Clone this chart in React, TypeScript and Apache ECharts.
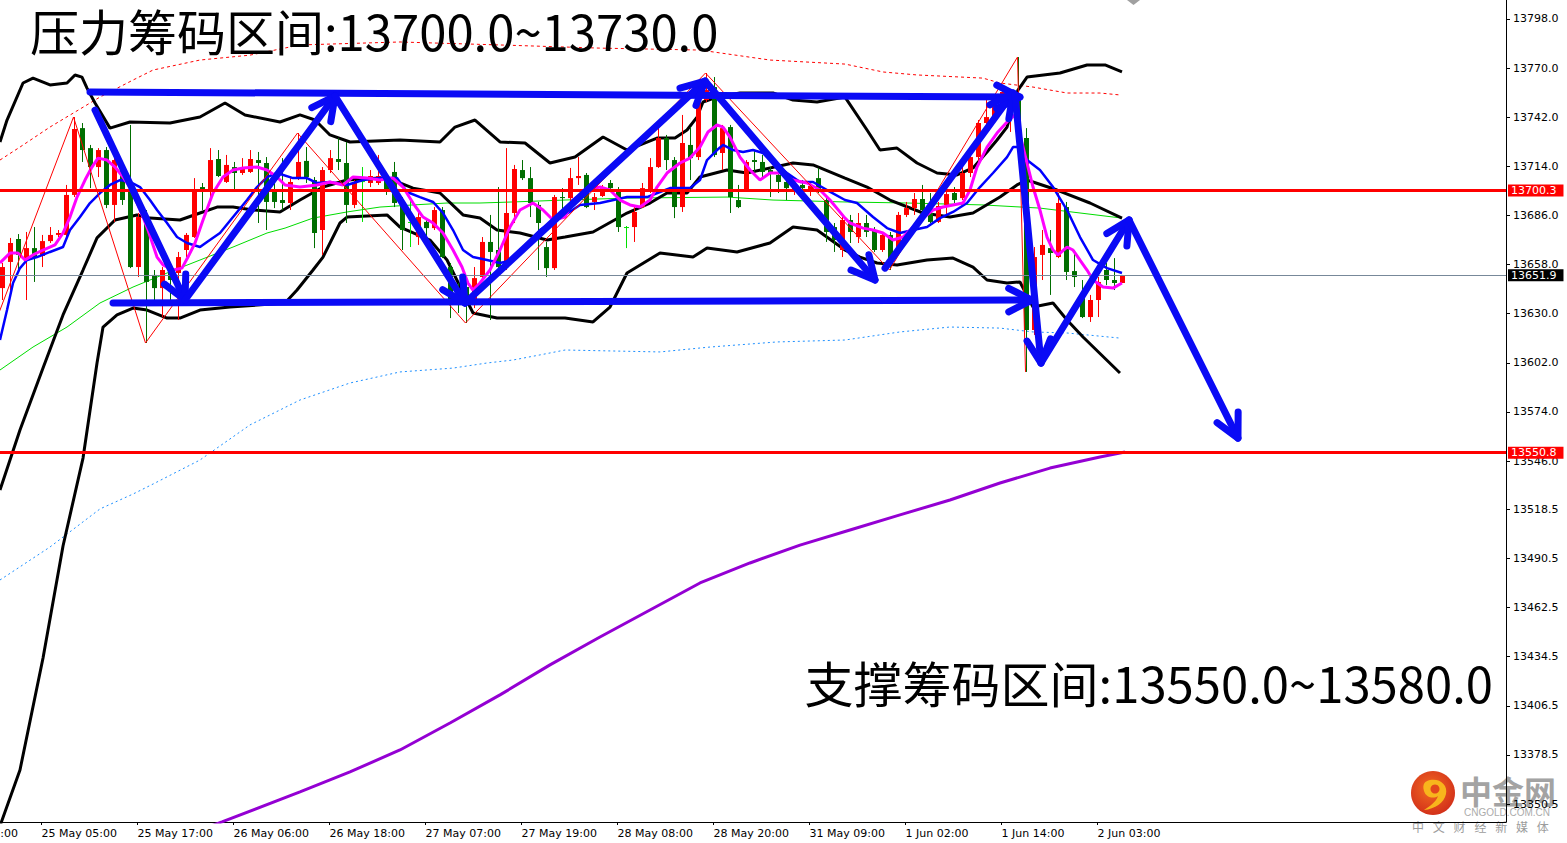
import React, { useEffect, useRef } from "react";
import * as echarts from "echarts";

const W = 1567;
const H = 843;
const GRID = { left: 0, top: 0, right: 61, bottom: 21 };

// Visible window: bar index on x, price on y.
const X_MIN = -5.1875;
const X_MAX = 183.0625;
const Y_MIN = 13340.24;
const Y_MAX = 13808.83;

// H1 candles, first one is bar index FIRST_BAR. Each row: [open, close, low, high]
const FIRST_BAR = -5;
const CANDLES: number[][] = [
  [13644.6, 13656.6, 13637.8, 13658.9],
  [13659.5, 13670.3, 13643.5, 13673.2],
  [13672.6, 13663.5, 13654.9, 13675.4],
  [13660.6, 13667.4, 13637.8, 13676.6],
  [13667.4, 13662.3, 13648.1, 13679.4],
  [13662.9, 13671.4, 13656.6, 13674.9],
  [13671.4, 13674.9, 13670.3, 13679.4],
  [13674.9, 13676.0, 13673.7, 13677.7],
  [13674.9, 13697.7, 13673.7, 13703.4],
  [13697.7, 13735.3, 13696.5, 13742.1],
  [13735.8, 13723.3, 13716.5, 13738.7],
  [13724.4, 13713.6, 13701.6, 13726.2],
  [13713.6, 13723.3, 13707.9, 13724.4],
  [13723.3, 13692.0, 13690.2, 13725.0],
  [13692.0, 13717.6, 13682.3, 13719.3],
  [13711.9, 13694.8, 13692.0, 13714.8],
  [13700.5, 13656.6, 13656.0, 13737.6],
  [13656.6, 13685.1, 13650.9, 13687.4],
  [13685.1, 13648.1, 13613.3, 13689.1],
  [13652.1, 13644.6, 13636.1, 13654.9],
  [13644.6, 13654.9, 13628.1, 13656.6],
  [13656.0, 13649.2, 13637.8, 13659.5],
  [13653.2, 13662.3, 13626.4, 13665.2],
  [13666.3, 13674.9, 13662.3, 13676.0],
  [13673.7, 13699.4, 13673.2, 13707.3],
  [13702.2, 13700.5, 13689.1, 13704.5],
  [13700.5, 13717.6, 13693.7, 13724.4],
  [13718.2, 13708.5, 13707.9, 13723.3],
  [13705.1, 13714.8, 13704.5, 13720.5],
  [13713.6, 13710.2, 13700.5, 13716.5],
  [13710.2, 13713.6, 13709.1, 13718.7],
  [13710.8, 13718.2, 13710.2, 13723.3],
  [13717.6, 13715.9, 13681.7, 13722.2],
  [13715.9, 13693.7, 13677.7, 13719.3],
  [13699.4, 13693.7, 13690.2, 13704.5],
  [13694.8, 13693.1, 13689.1, 13718.7],
  [13693.1, 13705.1, 13689.1, 13707.3],
  [13707.9, 13716.5, 13706.2, 13733.0],
  [13717.1, 13707.9, 13704.5, 13725.0],
  [13706.2, 13676.0, 13667.4, 13707.9],
  [13677.7, 13711.9, 13663.5, 13713.6],
  [13711.9, 13718.7, 13710.2, 13723.3],
  [13718.2, 13716.5, 13711.9, 13730.1],
  [13715.9, 13692.0, 13681.7, 13727.9],
  [13692.0, 13704.5, 13690.2, 13706.2],
  [13705.6, 13705.6, 13682.3, 13713.6],
  [13704.5, 13708.5, 13702.2, 13711.9],
  [13704.5, 13708.5, 13703.4, 13720.5],
  [13707.3, 13700.5, 13697.7, 13710.8],
  [13710.8, 13693.1, 13690.8, 13716.5],
  [13693.7, 13677.7, 13666.3, 13696.5],
  [13682.3, 13682.3, 13668.0, 13694.8],
  [13673.7, 13685.1, 13669.2, 13688.0],
  [13682.3, 13678.8, 13672.0, 13684.5],
  [13678.8, 13689.1, 13677.7, 13690.8],
  [13689.1, 13662.3, 13661.7, 13690.8],
  [13656.6, 13637.8, 13627.5, 13658.9],
  [13643.5, 13637.8, 13630.4, 13647.5],
  [13645.2, 13636.1, 13624.7, 13649.2],
  [13634.9, 13650.3, 13633.2, 13656.6],
  [13650.9, 13670.9, 13649.2, 13673.7],
  [13670.9, 13665.2, 13626.4, 13686.3],
  [13666.3, 13656.6, 13654.9, 13702.2],
  [13656.6, 13687.4, 13654.9, 13724.4],
  [13687.4, 13712.5, 13681.7, 13714.8],
  [13711.9, 13707.3, 13706.2, 13717.6],
  [13707.3, 13693.1, 13685.1, 13713.6],
  [13692.0, 13681.7, 13654.9, 13693.7],
  [13668.0, 13656.0, 13650.9, 13670.9],
  [13656.0, 13696.5, 13654.9, 13697.7],
  [13696.5, 13695.9, 13689.1, 13701.6],
  [13695.9, 13707.3, 13690.8, 13713.1],
  [13707.3, 13708.5, 13703.4, 13719.3],
  [13709.1, 13690.8, 13690.2, 13710.2],
  [13693.7, 13696.5, 13689.1, 13698.8],
  [13697.1, 13701.6, 13696.5, 13703.4],
  [13704.5, 13701.6, 13699.4, 13706.2],
  [13699.4, 13679.4, 13676.6, 13702.2],
  [13679.4, 13679.4, 13667.4, 13680.0],
  [13679.4, 13688.0, 13670.9, 13690.8],
  [13690.8, 13701.6, 13690.2, 13704.5],
  [13700.5, 13713.6, 13698.8, 13718.7],
  [13713.6, 13730.1, 13713.1, 13736.4],
  [13730.1, 13717.6, 13711.9, 13731.9],
  [13717.6, 13690.8, 13684.5, 13719.3],
  [13690.8, 13727.3, 13688.0, 13743.3],
  [13726.2, 13718.7, 13706.2, 13736.4],
  [13719.3, 13751.8, 13717.6, 13757.5],
  [13751.8, 13757.5, 13750.7, 13767.2],
  [13759.2, 13720.5, 13719.3, 13764.9],
  [13721.6, 13735.8, 13711.9, 13737.6],
  [13736.4, 13696.5, 13687.4, 13737.6],
  [13694.8, 13690.8, 13690.2, 13703.4],
  [13700.5, 13716.5, 13699.4, 13717.6],
  [13717.6, 13716.5, 13710.8, 13723.3],
  [13716.5, 13710.8, 13707.9, 13720.5],
  [13711.9, 13710.2, 13696.5, 13713.6],
  [13709.1, 13705.1, 13698.8, 13711.9],
  [13705.1, 13701.6, 13694.8, 13707.9],
  [13700.5, 13703.4, 13697.7, 13706.2],
  [13703.4, 13701.6, 13698.8, 13706.2],
  [13700.5, 13702.8, 13697.1, 13705.1],
  [13707.3, 13699.4, 13698.8, 13713.1],
  [13694.8, 13676.6, 13670.9, 13696.5],
  [13679.4, 13672.0, 13665.2, 13681.7],
  [13666.3, 13683.4, 13662.3, 13685.7],
  [13683.4, 13676.6, 13670.3, 13686.3],
  [13673.7, 13681.7, 13670.3, 13687.4],
  [13681.7, 13676.6, 13673.7, 13686.3],
  [13677.7, 13666.3, 13665.2, 13679.4],
  [13666.3, 13674.9, 13665.2, 13676.6],
  [13674.9, 13659.5, 13654.9, 13676.6],
  [13666.3, 13686.3, 13664.6, 13688.0],
  [13686.3, 13690.2, 13685.1, 13693.7],
  [13690.2, 13695.4, 13686.3, 13698.8],
  [13695.4, 13689.1, 13683.4, 13703.4],
  [13687.4, 13682.3, 13681.7, 13698.8],
  [13682.3, 13691.4, 13681.7, 13693.7],
  [13692.0, 13698.2, 13686.3, 13700.5],
  [13698.8, 13694.8, 13693.1, 13702.2],
  [13695.9, 13710.2, 13694.8, 13715.9],
  [13710.2, 13719.3, 13707.9, 13723.3],
  [13719.3, 13738.7, 13714.8, 13740.4],
  [13738.7, 13742.1, 13733.0, 13751.8],
  [13742.1, 13750.1, 13740.4, 13754.7],
  [13749.0, 13756.4, 13746.1, 13760.4],
  [13744.4, 13750.7, 13733.6, 13753.5],
  [13751.8, 13731.9, 13730.1, 13776.3],
  [13730.1, 13620.7, 13596.8, 13735.8],
  [13620.7, 13662.3, 13617.9, 13668.0],
  [13663.5, 13669.2, 13649.2, 13677.7],
  [13667.4, 13664.6, 13640.7, 13677.7],
  [13662.3, 13693.1, 13661.7, 13698.8],
  [13690.8, 13653.8, 13649.2, 13693.7],
  [13654.3, 13650.9, 13645.2, 13666.3],
  [13638.9, 13628.1, 13627.5, 13649.2],
  [13628.1, 13637.8, 13625.3, 13640.7],
  [13637.8, 13648.1, 13628.1, 13650.9],
  [13654.9, 13649.2, 13646.3, 13658.9],
  [13649.2, 13647.5, 13643.5, 13661.7],
  [13647.5, 13651.9, 13647.5, 13652.1],
];

// Indicator lines as [bar index, price]
const MA_FAST = [
  [-5.19, 13658.9], [-3.94, 13664.6], [-2.94, 13664.6], [-2.06, 13660.6], [-1.06, 13663.5], [0.19, 13666.3],
  [1.69, 13669.2], [2.69, 13676.0], [3.56, 13685.1], [4.44, 13696.5], [5.44, 13706.2], [6.31, 13713.6],
  [7.06, 13718.7], [8.19, 13717.6], [9.19, 13713.6], [10.19, 13707.9], [11.06, 13702.2], [11.94, 13693.1],
  [12.69, 13685.1], [13.31, 13677.7], [14.44, 13662.3], [15.19, 13657.8], [16.44, 13654.9], [17.56, 13656.0],
  [18.31, 13662.3], [19.19, 13670.3], [20.19, 13683.4], [21.44, 13698.8], [22.69, 13707.9], [23.94, 13711.9],
  [25.19, 13713.1], [26.94, 13713.6], [28.19, 13711.9], [29.44, 13707.9], [30.44, 13703.4], [32.31, 13702.2],
  [34.44, 13703.4], [36.06, 13705.1], [37.69, 13703.4], [38.94, 13707.9], [40.69, 13707.3], [42.31, 13706.2],
  [43.94, 13707.3], [45.19, 13702.2], [46.44, 13693.1], [47.69, 13685.1], [48.94, 13681.7], [50.19, 13676.0],
  [51.44, 13666.3], [52.56, 13656.6], [53.31, 13647.5], [53.94, 13643.5], [54.81, 13647.5], [56.06, 13654.9],
  [57.31, 13666.3], [58.56, 13679.4], [59.81, 13689.1], [61.44, 13693.1], [62.69, 13689.1], [63.94, 13683.4],
  [65.44, 13685.1], [66.44, 13694.8], [68.19, 13700.5], [69.81, 13702.2], [71.06, 13700.5], [72.31, 13694.8],
  [73.56, 13692.0], [74.81, 13690.8], [76.06, 13694.8], [76.94, 13702.2], [78.19, 13710.2], [79.81, 13715.9],
  [81.06, 13718.7], [82.31, 13725.0], [83.31, 13733.6], [84.44, 13737.6], [85.19, 13736.4], [86.06, 13730.7],
  [87.31, 13719.3], [88.56, 13711.9], [89.81, 13706.2], [91.06, 13710.2], [92.31, 13710.2], [93.94, 13706.2],
  [95.69, 13704.5], [97.31, 13700.5], [98.56, 13694.8], [100.44, 13684.5], [101.06, 13681.7], [102.69, 13678.8],
  [103.94, 13677.7], [105.19, 13676.0], [106.44, 13672.0], [107.69, 13673.7], [108.94, 13679.4], [110.19, 13684.5],
  [111.44, 13689.1], [112.69, 13690.8], [113.94, 13692.0], [115.19, 13693.1], [116.06, 13700.5], [116.94, 13713.6],
  [118.19, 13725.0], [119.44, 13733.0], [120.69, 13739.3], [121.69, 13743.3], [123.19, 13715.9], [123.94, 13702.2],
  [124.81, 13689.1], [125.69, 13673.7], [126.44, 13666.3], [127.06, 13663.5], [128.19, 13668.0], [128.94, 13666.3],
  [129.81, 13660.6], [130.69, 13654.9], [131.44, 13649.2], [132.69, 13645.2], [133.94, 13644.6], [135.06, 13647.5],
];

const MA_SLOW = [
  [-5.19, 13615.0], [-4.31, 13632.1], [-3.56, 13647.5], [-2.69, 13656.0], [-1.81, 13660.6], [-0.56, 13662.3],
  [1.06, 13665.2], [2.69, 13668.0], [3.56, 13677.7], [4.81, 13685.1], [6.06, 13693.1], [7.31, 13698.8],
  [8.56, 13703.4], [9.81, 13706.2], [11.06, 13705.1], [12.31, 13702.2], [13.56, 13694.8], [14.44, 13689.1],
  [15.69, 13681.7], [16.94, 13673.7], [18.19, 13670.3], [19.81, 13668.0], [20.69, 13670.9], [22.31, 13676.0],
  [23.94, 13685.1], [25.69, 13694.8], [26.94, 13702.2], [28.19, 13707.9], [29.44, 13710.2], [31.44, 13707.3],
  [33.19, 13707.3], [34.44, 13704.5], [36.06, 13705.1], [38.19, 13703.4], [40.19, 13706.2], [42.31, 13707.3],
  [44.44, 13707.3], [45.69, 13699.4], [47.31, 13696.5], [48.94, 13693.7], [50.19, 13687.4], [51.44, 13677.7],
  [52.69, 13666.3], [53.94, 13662.3], [55.69, 13660.6], [57.31, 13658.9], [58.94, 13660.6], [60.69, 13670.3],
  [62.31, 13677.7], [63.56, 13681.7], [65.44, 13686.3], [67.31, 13692.0], [69.81, 13693.1], [73.19, 13696.5],
  [75.69, 13696.5], [77.31, 13699.4], [78.56, 13701.6], [81.06, 13701.6], [82.31, 13706.2], [83.19, 13717.6],
  [84.44, 13723.3], [85.19, 13726.2], [86.44, 13723.3], [87.69, 13722.2], [88.94, 13723.3], [90.19, 13721.6],
  [91.44, 13715.9], [93.19, 13710.2], [94.81, 13705.1], [96.44, 13705.1], [98.19, 13700.5], [100.44, 13694.8],
  [101.94, 13693.1], [103.94, 13685.1], [105.69, 13678.8], [107.31, 13676.0], [108.94, 13677.7], [110.69, 13679.4],
  [112.31, 13684.5], [113.94, 13688.0], [115.69, 13693.1], [117.31, 13702.2], [118.94, 13710.2], [120.69, 13719.3],
  [121.44, 13725.0], [122.31, 13725.0], [123.19, 13717.6], [124.81, 13711.9], [126.44, 13702.2], [128.19, 13689.1],
  [129.81, 13673.7], [131.44, 13660.6], [133.19, 13656.0], [135.06, 13653.2],
];

const BB_UPPER = [
  [-5.19, 13727.9], [-4.31, 13740.4], [-2.31, 13761.5], [-1.06, 13764.3], [1.06, 13760.4], [3.19, 13761.5],
  [4.19, 13766.1], [5.06, 13764.9], [5.69, 13758.6], [6.69, 13750.1], [8.56, 13735.8], [11.06, 13739.3],
  [16.06, 13738.7], [19.81, 13742.1], [22.94, 13750.1], [25.44, 13743.3], [29.81, 13739.3], [32.31, 13743.3],
  [34.19, 13740.4], [36.06, 13731.9], [38.56, 13727.9], [44.81, 13729.0], [49.81, 13727.9], [51.69, 13736.4],
  [54.19, 13740.4], [57.31, 13727.9], [60.44, 13727.3], [63.56, 13715.9], [66.69, 13719.3], [70.19, 13730.7],
  [73.19, 13723.3], [76.94, 13730.1], [79.19, 13730.1], [80.69, 13734.7], [81.94, 13742.1], [82.69, 13750.7],
  [84.44, 13753.5], [87.31, 13755.8], [91.44, 13755.8], [93.94, 13751.8], [96.94, 13750.7], [100.44, 13753.5],
  [103.19, 13734.7], [104.81, 13723.3], [106.94, 13724.4], [109.44, 13715.9], [111.94, 13710.2], [114.44, 13709.1],
  [116.44, 13713.1], [118.19, 13722.2], [119.44, 13729.0], [120.69, 13736.4], [121.44, 13747.8], [122.06, 13757.5],
  [123.19, 13764.9], [127.31, 13767.2], [130.69, 13771.8], [132.94, 13771.8], [135.06, 13767.8],
];

const BB_MID = [
  [-5.19, 13529.5], [-2.69, 13563.7], [0.19, 13599.0], [2.69, 13629.3], [5.19, 13654.9], [6.94, 13673.2],
  [9.19, 13683.4], [11.94, 13686.3], [13.56, 13684.5], [17.31, 13683.4], [19.81, 13687.4], [21.94, 13690.8],
  [23.94, 13690.8], [26.44, 13689.1], [29.81, 13688.0], [32.31, 13694.8], [35.19, 13702.2], [38.19, 13706.2],
  [42.31, 13707.3], [43.94, 13706.2], [46.44, 13701.6], [49.81, 13698.8], [52.69, 13686.3], [54.81, 13684.5],
  [56.94, 13677.7], [59.81, 13676.0], [63.19, 13672.0], [65.44, 13673.7], [68.94, 13676.6], [73.19, 13687.4],
  [76.06, 13693.1], [78.19, 13698.8], [80.69, 13698.8], [82.31, 13707.9], [85.69, 13711.9], [88.19, 13710.2],
  [93.94, 13715.9], [96.44, 13714.8], [100.44, 13707.3], [103.19, 13702.2], [106.06, 13694.8], [110.19, 13687.4],
  [113.56, 13685.1], [116.44, 13687.4], [119.81, 13696.5], [121.94, 13703.4], [123.19, 13706.2], [126.94, 13700.5],
  [131.06, 13693.1], [135.06, 13684.5],
];

const BB_LOWER = [
  [-5.19, 13338.0], [-2.69, 13369.9], [0.19, 13433.7], [2.69, 13497.6], [5.19, 13547.7], [6.94, 13601.9],
  [7.69, 13622.4], [9.44, 13629.3], [11.44, 13633.2], [13.19, 13632.1], [15.69, 13627.5], [17.31, 13627.5],
  [19.81, 13632.1], [23.56, 13633.8], [30.44, 13636.1], [31.94, 13643.5], [33.94, 13654.9], [35.19, 13662.3],
  [37.31, 13681.7], [38.19, 13685.1], [43.19, 13686.3], [44.81, 13679.4], [48.56, 13672.0], [50.69, 13660.6],
  [53.94, 13630.4], [56.94, 13627.5], [65.44, 13627.5], [68.94, 13625.3], [71.06, 13633.8], [73.19, 13653.2],
  [77.31, 13664.6], [81.44, 13662.3], [83.19, 13667.4], [86.94, 13665.2], [91.06, 13670.3], [93.94, 13679.4],
  [96.94, 13677.7], [100.44, 13666.3], [102.31, 13662.3], [104.44, 13658.9], [106.94, 13657.8], [110.69, 13660.6],
  [113.94, 13661.7], [116.44, 13656.6], [118.19, 13649.2], [120.69, 13647.5], [122.31, 13648.1], [123.94, 13633.8],
  [126.44, 13636.1], [128.19, 13626.4], [130.19, 13616.7], [134.81, 13596.2],
];

const MA_LONG = [
  [-5.19, 13597.9], [-1.06, 13611.0], [3.19, 13622.4], [7.31, 13636.1], [11.44, 13645.2], [15.69, 13653.2],
  [19.81, 13660.6], [23.94, 13668.0], [28.19, 13676.0], [30.44, 13678.8], [33.94, 13684.5], [38.19, 13688.0],
  [42.31, 13690.8], [46.44, 13692.0], [50.69, 13693.1], [54.81, 13693.1], [58.94, 13693.7], [65.44, 13694.8],
  [73.19, 13695.9], [85.69, 13696.5], [91.44, 13694.8], [100.44, 13693.7], [108.19, 13693.1], [117.69, 13692.0],
  [124.81, 13690.2], [135.06, 13684.5],
];

const ENV_UPPER = [
  [-5.19, 13717.6], [-2.69, 13725.0], [1.06, 13736.4], [7.31, 13753.5], [11.44, 13763.2], [13.94, 13768.9],
  [19.81, 13774.6], [26.06, 13777.4], [32.31, 13783.2], [44.81, 13784.9], [57.31, 13783.2], [69.81, 13781.4],
  [82.31, 13780.3], [91.06, 13774.6], [100.44, 13772.3], [105.19, 13767.8], [109.44, 13766.1], [117.69, 13764.3],
  [119.81, 13761.5], [123.94, 13759.2], [128.19, 13755.8], [132.31, 13755.8], [134.81, 13754.7],
];

const ENV_LOWER = [
  [-5.19, 13478.2], [1.06, 13497.0], [7.31, 13518.7], [11.44, 13527.2], [13.94, 13532.9], [19.81, 13546.6],
  [26.06, 13566.6], [32.31, 13580.8], [38.56, 13590.5], [44.81, 13596.8], [51.44, 13599.0], [55.69, 13601.9],
  [58.94, 13603.6], [62.31, 13606.5], [65.44, 13609.3], [77.31, 13608.2], [83.56, 13611.0], [91.94, 13613.9],
  [100.44, 13615.0], [107.31, 13619.6], [113.56, 13622.4], [119.81, 13621.8], [123.94, 13619.6], [128.19, 13619.0],
  [134.81, 13616.1],
];

const MA_TREND = [
  [14.81, 13327.2], [22.56, 13340.3], [32.31, 13357.4], [38.56, 13368.8], [44.81, 13381.3], [51.06, 13396.7],
  [57.31, 13412.7], [63.56, 13429.8], [69.81, 13445.7], [76.06, 13461.1], [82.31, 13476.5], [88.56, 13487.9],
  [94.81, 13498.1], [101.06, 13506.7], [107.31, 13515.3], [113.56, 13523.8], [119.81, 13533.5], [126.06, 13542.0],
  [132.31, 13548.3], [135.44, 13551.2],
];

const ZIGZAG = [
  [-7, 13610.4], [4, 13742.1], [13, 13613.3], [32, 13733.0], [53, 13624.7],
  [83, 13767.2], [106, 13654.9], [122, 13776.3], [123, 13596.8],
];

// Hand-drawn trend arrows: [fromBar, fromPrice, toBar, toPrice]
const ARROWS = [
  [6.06, 13756.4, 122.3, 13753.5],
  [8.94, 13636.1, 123.8, 13637.8],
  [6.69, 13746.1, 17.94, 13637.8],
  [17.94, 13637.8, 36.69, 13754.1],
  [36.69, 13754.1, 52.94, 13636.1],
  [52.94, 13636.1, 82.94, 13762.6],
  [82.94, 13762.6, 104.19, 13649.2],
  [105.44, 13656.0, 121.44, 13755.8],
  [121.69, 13754.7, 124.94, 13601.9],
  [124.94, 13601.9, 135.94, 13683.4],
  [135.94, 13683.4, 149.56, 13559.1],
];

const RESISTANCE_LEVEL = 13700.3;
const SUPPORT_LEVEL = 13550.8;
const LAST_PRICE = CANDLES[CANDLES.length - 1][1];

const X_TICK_BARS = [0, 12, 24, 36, 48, 60, 72, 84, 96, 108, 120, 132];
const X_TICK_LABELS = [
  "25 May 05:00", "25 May 17:00", "26 May 06:00", "26 May 18:00", "27 May 07:00", "27 May 19:00",
  "28 May 08:00", "28 May 20:00", "31 May 09:00", "1 Jun 02:00", "1 Jun 14:00", "2 Jun 03:00",
];
const X_PREV_BAR = -12;
const X_PREV_LABEL = "24 May 16:00";

const Y_TICKS = [
  13350.5, 13378.5, 13406.5, 13434.5, 13462.5, 13490.5, 13518.5, 13546.0, 13574.0,
  13602.0, 13630.0, 13658.0, 13686.0, 13714.0, 13742.0, 13770.0, 13798.0,
];

const TITLE_TOP = "压力筹码区间:13700.0~13730.0";
const TITLE_BOTTOM = "支撑筹码区间:13550.0~13580.0";
const BRAND = "中金网";
const BRAND_DOMAIN = "CNGOLD.COM.CN";
const BRAND_SLOGAN = "中文财经新媒体";

const BULL = "#FF0000";
const BEAR = "#006E00";
const DOJI = "#00E000";
const ARROW_BLUE = "#0A0AF5";
const AXIS_FONT = "DejaVu Sans";
const CJK_FONT = "Noto Sans CJK SC";

const SWIRL_PATH =
  "M -3 -13 C 7 -15 15 -8 13 1 C 11 10 2 16 -9 17 C -3 13 3 9 5 3 C 1 6 -7 5 -9 -2 C -11 -9 -8 -12 -3 -13 Z";
let swirlReady = false;
function registerShapes() {
  if (swirlReady) return;
  echarts.graphic.registerShape("brandSwirl", echarts.graphic.extendPath(SWIRL_PATH, {}) as any);
  swirlReady = true;
}

function lineSeries(data: number[][], color: string, width: number, z: number, type: any = "solid", extra: any = {}) {
  return {
    type: "line",
    data,
    showSymbol: false,
    symbol: "none",
    silent: true,
    z,
    lineStyle: { color, width, type },
    ...extra,
  };
}

function tagLabel(bg: string) {
  return {
    show: true,
    position: "end",
    distance: 2,
    formatter: (p: any) => Number(p.value).toFixed(1),
    color: "#fff",
    backgroundColor: bg,
    padding: [1, 7, 0, 3],
    fontSize: 11,
    lineHeight: 11,
    fontFamily: AXIS_FONT,
  };
}

function buildOption() {
  const candleData = CANDLES.map((c, i) => [FIRST_BAR + i, c[0], c[1], c[2], c[3]]);
  return {
    animation: false,
    backgroundColor: "#ffffff",
    grid: { ...GRID, containLabel: false },
    xAxis: {
      type: "value",
      min: X_MIN,
      max: X_MAX,
      axisLine: { show: true, onZero: false, lineStyle: { color: "#000", width: 1 } },
      axisTick: { show: true, customValues: X_TICK_BARS, length: 3, lineStyle: { color: "#000" } },
      axisLabel: {
        show: true,
        customValues: X_TICK_BARS,
        formatter: (v: number) => {
          const i = X_TICK_BARS.indexOf(Math.round(v));
          return i >= 0 ? X_TICK_LABELS[i] : "";
        },
        align: "left",
        margin: 6,
        color: "#000",
        fontFamily: AXIS_FONT,
        fontSize: 11,
      },
      splitLine: { show: false },
    },
    yAxis: {
      type: "value",
      position: "right",
      min: Y_MIN,
      max: Y_MAX,
      axisLine: { show: true, onZero: false, lineStyle: { color: "#000", width: 1 } },
      axisTick: { show: true, customValues: Y_TICKS, length: 4, lineStyle: { color: "#000" } },
      axisLabel: {
        show: true,
        customValues: Y_TICKS,
        formatter: (v: number) => v.toFixed(1),
        margin: 7,
        color: "#000",
        fontFamily: AXIS_FONT,
        fontSize: 11,
      },
      splitLine: { show: false },
    },
    series: [
      lineSeries(ENV_UPPER, "#FF0000", 1, 1, [3, 3]),
      lineSeries(ENV_LOWER, "#1E90FF", 1, 1, [2, 3]),
      lineSeries(MA_TREND, "#9400D3", 3, 1),
      lineSeries(MA_LONG, "#00DD00", 1, 1),
      lineSeries(BB_UPPER, "#000000", 3, 1),
      lineSeries(BB_MID, "#000000", 3, 1),
      lineSeries(BB_LOWER, "#000000", 3, 1),
      {
        type: "custom",
        silent: true,
        z: 2,
        data: candleData,
        encode: { x: 0, y: [1, 2, 3, 4] },
        renderItem: (_params: any, api: any) => {
          const k = api.value(0);
          const o = api.value(1);
          const c = api.value(2);
          const lo = api.value(3);
          const hi = api.value(4);
          const pO = api.coord([k, o]);
          const pC = api.coord([k, c]);
          const pL = api.coord([k, lo]);
          const pH = api.coord([k, hi]);
          const cx = Math.round(pO[0]);
          const color = c > o ? BULL : c < o ? BEAR : DOJI;
          const top = Math.min(pO[1], pC[1]);
          const bot = Math.max(pO[1], pC[1]);
          return {
            type: "group",
            children: [
              {
                type: "line",
                shape: { x1: cx + 0.5, y1: pH[1], x2: cx + 0.5, y2: pL[1] },
                style: { stroke: color, lineWidth: 1 },
              },
              {
                type: "rect",
                shape: { x: cx - 2, y: top, width: 5, height: Math.max(1, bot - top) },
                style: { fill: color },
              },
            ],
          };
        },
      },
      lineSeries(MA_SLOW, "#0000FF", 2.5, 3),
      lineSeries(MA_FAST, "#FF00FF", 3, 3),
      lineSeries(ZIGZAG, "#FF0000", 1, 4, "solid", {
        markLine: {
          silent: true,
          symbol: ["none", "none"],
          animation: false,
          data: [
            { yAxis: LAST_PRICE, lineStyle: { color: "#778899", width: 1, type: "solid" }, label: tagLabel("#000000") },
            { yAxis: RESISTANCE_LEVEL, lineStyle: { color: "#FF0000", width: 3, type: "solid" }, label: tagLabel("#FF0000") },
            { yAxis: SUPPORT_LEVEL, lineStyle: { color: "#FF0000", width: 3, type: "solid" }, label: tagLabel("#FF0000") },
          ],
        },
      }),
      {
        type: "custom",
        silent: true,
        z: 6,
        data: ARROWS,
        encode: { x: [0, 2], y: [1, 3] },
        renderItem: (_params: any, api: any) => {
          const a = api.coord([api.value(0), api.value(1)]);
          const b = api.coord([api.value(2), api.value(3)]);
          const ang = Math.atan2(b[1] - a[1], b[0] - a[0]);
          const len = 26;
          const spread = 0.47;
          const h1 = [b[0] - len * Math.cos(ang - spread), b[1] - len * Math.sin(ang - spread)];
          const h2 = [b[0] - len * Math.cos(ang + spread), b[1] - len * Math.sin(ang + spread)];
          const st = { stroke: ARROW_BLUE, lineWidth: 7, lineCap: "round", lineJoin: "round", fill: null };
          return {
            type: "group",
            children: [
              { type: "line", shape: { x1: a[0], y1: a[1], x2: b[0], y2: b[1] }, style: st },
              { type: "polyline", shape: { points: [h1, b, h2] }, style: st },
            ],
          };
        },
      },
    ],
  };
}

function buildGraphics(prevLabelX: number) {
  const slogan = BRAND_SLOGAN.split("").map((ch, i) => ({
    type: "text",
    z: -1,
    x: 1418 + i * 20.8,
    y: 826,
    style: {
      text: ch,
      fill: "#9C9C9C",
      font: `12px "${CJK_FONT}"`,
      align: "center",
      verticalAlign: "middle",
      textAlign: "center",
      textVerticalAlign: "middle",
    },
  }));
  return [
    {
      type: "text",
      z: 10,
      x: 30,
      y: 29,
      style: {
        text: TITLE_TOP,
        fill: "#000",
        font: `49px "${CJK_FONT}"`,
        align: "left",
        verticalAlign: "middle",
        textAlign: "left",
        textVerticalAlign: "middle",
      },
    },
    {
      type: "text",
      z: 10,
      x: 1493,
      y: 681,
      style: {
        text: TITLE_BOTTOM,
        fill: "#000",
        font: `49px "${CJK_FONT}"`,
        align: "right",
        verticalAlign: "middle",
        textAlign: "right",
        textVerticalAlign: "middle",
      },
    },
    {
      type: "text",
      x: prevLabelX - 3,
      y: 828,
      style: {
        text: X_PREV_LABEL,
        fill: "#000",
        font: `11px "${AXIS_FONT}"`,
        align: "left",
        verticalAlign: "top",
        textAlign: "left",
        textVerticalAlign: "top",
      },
    },
    {
      type: "polygon",
      shape: { points: [[1127, 0], [1140, 0], [1133.5, 5]] },
      style: { fill: "#A0A0A0" },
    },
    {
      type: "circle",
      z: -1,
      shape: { cx: 1433, cy: 793, r: 22 },
      style: {
        fill: {
          type: "radial",
          x: 0.45,
          y: 0.4,
          r: 0.6,
          colorStops: [
            { offset: 0, color: "#F26B21" },
            { offset: 1, color: "#D3311A" },
          ],
        },
      },
    },
    {
      type: "brandSwirl",
      z: -1,
      x: 1433,
      y: 793,
      scaleX: 1,
      scaleY: 1,
      style: { fill: "#F8B51C" },
    },
    {
      type: "circle",
      z: -1,
      shape: { cx: 1435, cy: 789, r: 4.5 },
      style: { fill: "#E3461C" },
    },
    {
      type: "text",
      z: -1,
      x: 1460,
      y: 790,
      style: {
        text: BRAND,
        fill: "#A3A3A3",
        font: `bold 32px "${CJK_FONT}"`,
        align: "left",
        verticalAlign: "middle",
        textAlign: "left",
        textVerticalAlign: "middle",
      },
    },
    {
      type: "text",
      z: -1,
      x: 1507,
      y: 812,
      style: {
        text: BRAND_DOMAIN,
        fill: "#ABABAB",
        font: `10px "Liberation Sans"`,
        align: "center",
        verticalAlign: "middle",
        textAlign: "center",
        textVerticalAlign: "middle",
      },
    },
    ...slogan,
  ];
}

export default function App() {
  const ref = useRef<HTMLDivElement>(null);
  useEffect(() => {
    if (!ref.current) return;
    registerShapes();
    const chart = echarts.init(ref.current, null, { renderer: "svg", width: W, height: H });
    chart.setOption(buildOption() as any);
    const px = chart.convertToPixel({ xAxisIndex: 0 } as any, X_PREV_BAR) as unknown as number;
    chart.setOption({ graphic: buildGraphics(px) } as any);
    return () => chart.dispose();
  }, []);
  return (
    <div
      ref={ref}
      style={{ position: "fixed", left: 0, top: 0, width: W, height: H, background: "#fff" }}
    />
  );
}
